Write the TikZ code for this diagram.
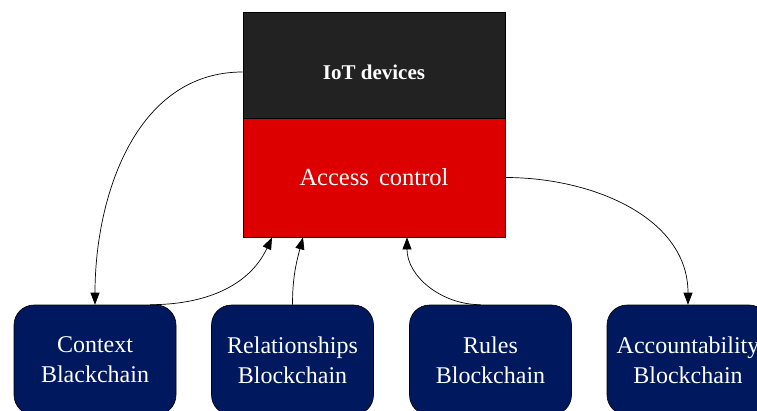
\documentclass[tikz,border=0pt]{standalone}
\usepackage{fontspec}
\setmainfont{Liberation Serif}
\usetikzlibrary{positioning, shapes, arrows.meta}

\definecolor{iotgray}{RGB}{34,34,34}
\definecolor{acred}{RGB}{221,0,0}
\definecolor{chainblue}{RGB}{0,25,94}

\begin{document}
\begin{tikzpicture}[x=1pt, y=1pt, every node/.style={text=white, align=center}]
  % Styles
  \tikzset{
    device/.style={rectangle, draw=black, line width=0.8pt, minimum width=262pt, minimum height=120pt, fill=iotgray, font=\bfseries\fontsize{21}{24}\selectfont},
    control/.style={rectangle, draw=black, line width=0.8pt, minimum width=262pt, minimum height=119pt, fill=acred, font=\fontsize{24.5}{28}\selectfont},
    chain/.style={rectangle, rounded corners=20pt, draw=black, line width=0.6pt, minimum width=162pt, minimum height=110pt, fill=chainblue, font=\fontsize{24}{30}\selectfont},
    flow/.style={-{Triangle[length=12pt, width=9pt]}, line width=0.7pt}
  }
  \useasboundingbox (0,0) rectangle (757,410);

  % Top blocks (access control is drawn over the lower part of the devices box)
  \node[device] (iot) at (374,338) {IoT devices};
  \node[control] (access) at (374,232.5) {Access\, control};

  % Blockchains
  \node[chain] (ctx) at (95,50) {Context\\Blackchain};
  \node[chain] (rel) at (292.5,50) {Relationships\\Blockchain};
  \node[chain] (rules) at (490.5,50) {Rules\\Blockchain};
  \node[chain] (acc) at (688,50) {Accountability\\Blockchain};

  % Flows
  \draw[flow] (iot.west) to[out=180, in=90] (ctx.north);
  \draw[flow] ([xshift=55pt]ctx.north) to[out=0, in=-115] ([xshift=-102pt]access.south);
  \draw[flow] (rel.north) to[out=90, in=-105] ([xshift=-71pt]access.south);
  \draw[flow] ([xshift=-10pt]rules.north) to[out=180, in=-90] ([xshift=33pt]access.south);
  \draw[flow] (access.east) to[out=0, in=90] (acc.north);
\end{tikzpicture}
\end{document}
